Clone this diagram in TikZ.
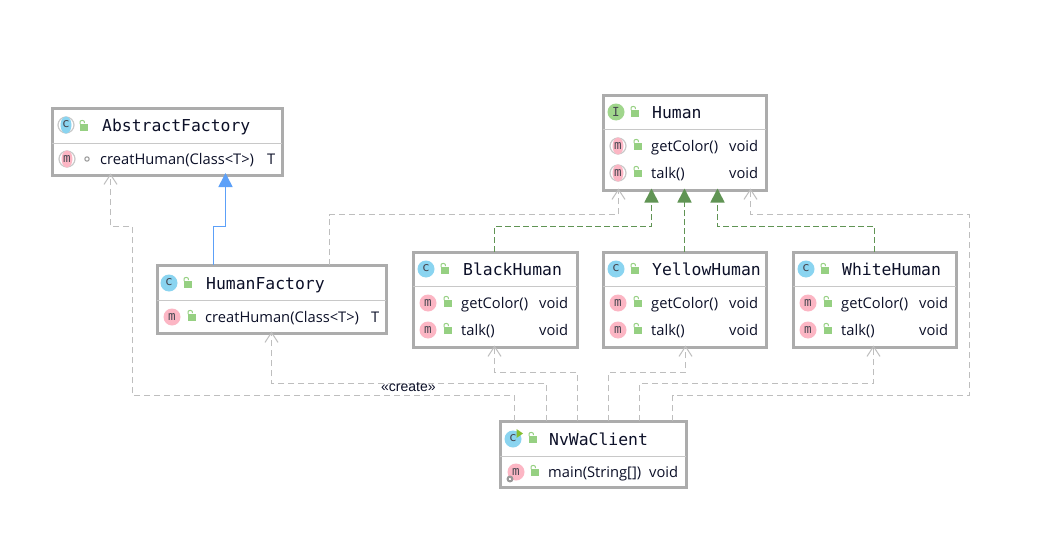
\documentclass[tikz,border=0pt]{standalone}
\usepackage{fontspec}
\setmainfont{Open Sans}
\newfontfamily\titlefont{DejaVu Sans Mono}
\newfontfamily\labfont{Liberation Sans}
\usetikzlibrary{arrows.meta,calc}
\definecolor{boxgray}{RGB}{172,172,172}
\definecolor{divgray}{RGB}{200,200,200}
\definecolor{depgray}{RGB}{190,190,190}
\definecolor{inhgreen}{RGB}{96,148,84}
\definecolor{extblue}{RGB}{92,160,248}
\definecolor{clsblue}{RGB}{138,212,240}
\definecolor{mthpink}{RGB}{252,182,196}
\definecolor{ifgreen}{RGB}{160,214,140}
\definecolor{lockgreen}{RGB}{150,208,130}
\definecolor{txtdark}{RGB}{12,16,40}
\definecolor{icontxt}{RGB}{70,70,80}
\tikzset{
  umlbox/.style={draw=boxgray,line width=3pt,fill=white,anchor=north west,inner sep=0pt,outer sep=0pt},
  divider/.style={draw=divgray,line width=1pt},
  titletext/.style={anchor=base west,inner sep=0pt,text=txtdark,font=\titlefont\fontsize{16.4}{18}\selectfont},
  membertext/.style={anchor=base west,inner sep=0pt,text=txtdark,font=\fontsize{14.7}{16}\selectfont},
  icontext/.style={inner sep=0pt,text=icontxt,font=\titlefont\fontsize{12.5}{13}\selectfont},
  dep/.style={draw=depgray,line width=1pt,dash pattern=on 6pt off 4pt,-{Straight Barb[length=10pt,width=13pt,line width=1pt]}},
  impl/.style={draw=inhgreen,line width=1.6pt,dash pattern=on 6pt off 3pt,-{Triangle[length=14pt,width=14pt,fill=inhgreen]}},
  extends/.style={draw=extblue,line width=1.6pt,-{Triangle[length=14pt,width=14pt,fill=extblue]}},
  lockbody/.style={fill=lockgreen,draw=none},
  lockarc/.style={draw=lockgreen,line width=1pt,fill=none},
}
% \umlcls{name}{x}{y}{w}{h}{divider y}
\newcommand{\umlcls}[6]{%
  \node[umlbox,minimum width=#4pt,minimum height=#5pt] (#1) at (#2,#3) {};
  \draw[divider] (#2,#6) -- ({#2+#4},#6);}
% \padlock{x centre}{y centre}
\newcommand{\padlock}[2]{%
  \fill[lockbody] ({#1-3},{#2-3}) rectangle ({#1+5},{#2+4});
  \draw[lockarc] ({#1-3},{#2-3}) -- ({#1-3},{#2-5}) arc[start angle=180,end angle=0,x radius=2.2,y radius=-1.6] -- ++(0,1);}
% \cicon{name}{x}{y}{color}{letter}
\newcommand{\cicon}[5]{%
  \fill[#4] (#2,#3) circle[radius=8.5];
  \node[icontext] (#1) at (#2,{#3-0.5}) {#5};}
% \aicon{name}{x}{y}{color}{letter}  abstract: narrowed disc within a grey ring
\newcommand{\aicon}[5]{%
  \draw[divgray,line width=1.2pt] (#2,#3) circle[radius=8];
  \fill[#4] (#2,#3) ellipse[x radius=5.5,y radius=8.5];
  \node[icontext] (#1) at (#2,{#3-0.5}) {#5};}
\newcommand{\fullmember}[6]{% name, offset x, y, method, type x, type
  \cicon{#1-i}{\numexpr#2-33\relax}{#3}{mthpink}{m}
  \padlock{\numexpr#2-14\relax}{#3}
  \node[membertext] (#1-n) at (#2,{#3+5}) {#4};
  \node[membertext] (#1-t) at (#5,{#3+5}) {#6};}
\begin{document}
\begin{tikzpicture}[x=1pt,y=-1pt]
\useasboundingbox (0,0) rectangle (1053,538);
\fill[white] (0,0) rectangle (1053,538);

% classes
\umlcls{abs}{52}{108}{230}{67}{143}
\umlcls{hf}{157}{265}{229}{68}{300}
\umlcls{human}{603}{95}{163}{95}{129}
\umlcls{black}{413}{252}{164}{95}{286}
\umlcls{yellow}{603}{252}{163}{95}{286}
\umlcls{white}{793}{252}{163}{95}{286}
\umlcls{client}{500}{421}{186}{66}{456}

% AbstractFactory
\aicon{abs-c}{66}{125}{clsblue}{c}
\padlock{83}{127}
\node[titletext] (abs-title) at (102,131) {AbstractFactory};
\aicon{abs-mi}{67}{159}{mthpink}{m}
\draw[depgray!80!black,line width=1pt] (87,159) circle[radius=2.2];
\node[membertext] (abs-m) at (100,164) {creatHuman(Class<T>)};
\node[membertext] (abs-t) at (267,164) {T};

% HumanFactory
\cicon{hf-c}{169}{283}{clsblue}{c}
\padlock{187}{284}
\node[titletext] (hf-title) at (206,289) {HumanFactory};
\fullmember{hf-m}{205}{317}{creatHuman(Class<T>)}{371}{T}

% Human
\cicon{human-c}{616}{112}{ifgreen}{I}
\padlock{634}{113}
\node[titletext] (human-title) at (652,118) {Human};
\aicon{human-a}{618}{146}{mthpink}{m}
\padlock{637}{146}
\node[membertext] (human-an) at (651,151) {getColor()};
\node[membertext] (human-at) at (729,151) {void};
\aicon{human-b}{618}{173}{mthpink}{m}
\padlock{637}{173}
\node[membertext] (human-bn) at (651,178) {talk()};
\node[membertext] (human-bt) at (729,178) {void};

% BlackHuman
\cicon{black-c}{426}{269}{clsblue}{c}
\padlock{444}{270}
\node[titletext] (black-title) at (463,275) {BlackHuman};
\fullmember{black-a}{461}{303}{getColor()}{539}{void}
\fullmember{black-b}{461}{330}{talk()}{539}{void}

% YellowHuman
\cicon{yellow-c}{616}{269}{clsblue}{c}
\padlock{634}{270}
\node[titletext] (yellow-title) at (652,275) {YellowHuman};
\fullmember{yellow-a}{651}{303}{getColor()}{729}{void}
\fullmember{yellow-b}{651}{330}{talk()}{729}{void}

% WhiteHuman
\cicon{white-c}{806}{269}{clsblue}{c}
\padlock{824}{270}
\node[titletext] (white-title) at (842,275) {WhiteHuman};
\fullmember{white-a}{841}{303}{getColor()}{919}{void}
\fullmember{white-b}{841}{330}{talk()}{919}{void}

% NvWaClient
\cicon{client-c}{513}{439}{clsblue}{c}
\fill[inhgreen!60!lime] (516.5,429) -- (523,433.5) -- (516.5,438) -- cycle;
\padlock{532}{439}
\node[titletext] (client-title) at (549,445) {NvWaClient};
\cicon{client-mi}{516}{472}{mthpink}{m}
\draw[gray!80,line width=2pt] (510,479) circle[radius=2.4];
\padlock{534}{472}
\node[membertext] (client-m) at (548,477) {main(String[])};
\node[membertext] (client-t) at (649,477) {void};

% dependencies
\draw[dep] ([xshift=14.5pt]client.north west) -- ++(0,-25.5) -| (132.5,226.5) -| ([xshift=58.5pt,yshift=1.5pt]abs.south west);
\draw[dep] ([xshift=46.5pt]client.north west) -- ++(0,-37.5) -| ([xshift=114.5pt,yshift=1.5pt]hf.south west);
\draw[dep] ([xshift=77.5pt]client.north west) -- ++(0,-48.5) -| ([xshift=81.5pt,yshift=1.5pt]black.south west);
\draw[dep] ([xshift=108.5pt]client.north west) -- ++(0,-48.5) -| ([xshift=82.5pt,yshift=1.5pt]yellow.south west);
\draw[dep] ([xshift=139.5pt]client.north west) -- ++(0,-37.5) -| ([xshift=80.5pt,yshift=1.5pt]white.south west);
\draw[dep] ([xshift=172.5pt]client.north west) -- ++(0,-25.5) -| (969.5,214.5) -| ([xshift=147.5pt,yshift=1.5pt]human.south west);
\draw[dep] ([xshift=172.5pt]hf.north west) -- ++(0,-50.5) -| ([xshift=15.5pt,yshift=1.5pt]human.south west);
\node[inner sep=0pt,anchor=base west,text=txtdark,font=\labfont\fontsize{14}{16}\selectfont] (createlabel) at (381,391) {«create»};

% realisations
\draw[impl] ([xshift=81.5pt]black.north west) -- ++(0,-25.5) -| ([xshift=48.5pt,yshift=1.5pt]human.south west);
\draw[impl] ([xshift=81.5pt]yellow.north west) -- ([xshift=81.5pt,yshift=1.5pt]human.south west);
\draw[impl] ([xshift=81.5pt]white.north west) -- ++(0,-25.5) -| ([xshift=114.5pt,yshift=1.5pt]human.south west);

% extends
\draw[extends] ([xshift=56.5pt]hf.north west) -- ++(0,-38.5) -| ([xshift=173.5pt,yshift=2pt]abs.south west);
\end{tikzpicture}
\end{document}
